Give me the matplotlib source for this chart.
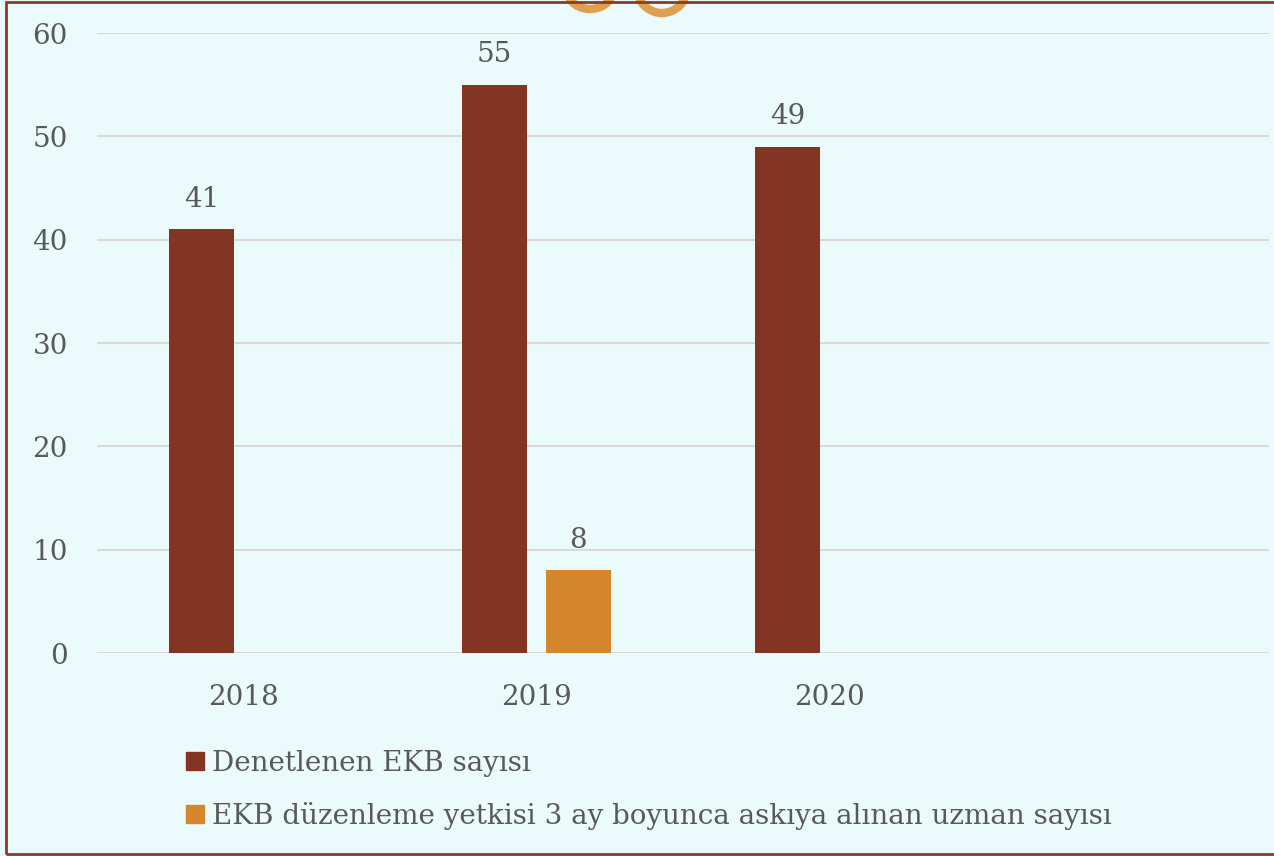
import matplotlib.pyplot as plt
import numpy as np
from matplotlib.patches import Rectangle, Patch, Ellipse

years = ["2018", "2019", "2020", ""]
denetlenen = [41, 55, 49, np.nan]
askiya = [np.nan, 8, np.nan, np.nan]
series_names = ["Denetlenen EKB sayısı",
                "EKB düzenleme yetkisi 3 ay boyunca askıya alınan uzman sayısı"]

BROWN = "#843422"
ORANGE = "#D6872E"
TEXT = "#595959"
BG = "#EBFBFB"
FS = 20

plt.rcParams["font.family"] = ["DejaVu Serif"]

fig = plt.figure(figsize=(12.74, 8.56), dpi=100, facecolor=BG)
ax = fig.add_axes([97 / 1274, 1 - 653 / 856, 1172 / 1274, 620 / 856])
ax.set_facecolor(BG)

x = np.arange(len(years))
w = 0.222
off = 0.1426
b1 = ax.bar(x - off, denetlenen, w, color=BROWN, zorder=3)
b2 = ax.bar(x + off, askiya, w, color=ORANGE, zorder=3)

for bars, vals in ((b1, denetlenen), (b2, askiya)):
    for r, v in zip(bars, vals):
        if np.isnan(v):
            continue
        ax.text(r.get_x() + r.get_width() / 2, v + 1.6, f"{v:.0f}",
                ha="center", va="bottom", fontsize=FS, color=TEXT)

ax.set_xlim(-0.5, len(years) - 0.5)
ax.set_ylim(0, 60)
ax.set_yticks(range(0, 61, 10))
ax.set_xticks(x)
ax.set_xticklabels(years)
ax.tick_params(axis="both", length=0, labelsize=FS, labelcolor=TEXT)
ax.tick_params(axis="x", pad=22)
ax.tick_params(axis="y", pad=21)
ax.grid(axis="y", color="#D9D9D9", lw=1.5, zorder=0)
for s in ax.spines.values():
    s.set_visible(False)

handles = [Patch(color=BROWN), Patch(color=ORANGE)]
fig.legend(handles, series_names, loc="upper left",
           bbox_to_anchor=(172 / 1274, 1 - 736 / 856), frameon=False,
           fontsize=FS, labelcolor=TEXT, handlelength=0.65, handleheight=0.65,
           handletextpad=0.3, labelspacing=0.9, borderpad=0)

# cropped emblem at the top
for cx, cy, ew, eh in ((590, -8, 44, 34), (662, -12, 50, 50)):
    fig.add_artist(Ellipse((cx / 1274, 1 - cy / 856), ew / 1274, eh / 856,
                           transform=fig.transFigure, fill=False,
                           ec="#DFA04E", lw=6))

fig.add_artist(Rectangle((6 / 1274, 2 / 856), 1.05, 852 / 856,
                         transform=fig.transFigure, fill=False,
                         ec="#8B3A2A", lw=2))

fig.savefig("out.png", dpi=100, facecolor=BG)
